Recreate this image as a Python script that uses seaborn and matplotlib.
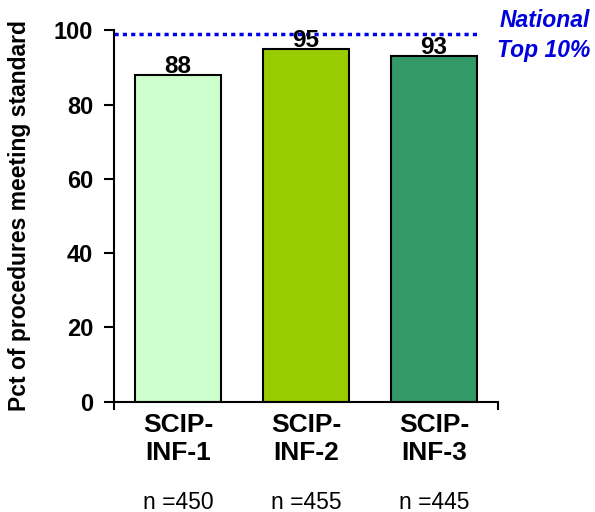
import pandas as pd
import numpy as np
import matplotlib.pyplot as plt
import seaborn as sns

CATEGORIES = ["SCIP-\nINF-1", "SCIP-\nINF-2", "SCIP-\nINF-3"]
VALUES = [88, 95, 93]
N_COUNTS = [450, 455, 445]
BAR_COLORS = ["#CCFFCC", "#99CC00", "#339966"]
NATIONAL_TOP10 = 99

sns.set_theme(style="white")
plt.rcParams['font.family'] = ['Liberation Sans', 'DejaVu Sans']
plt.rcParams['text.color'] = 'black'
plt.rcParams['axes.labelcolor'] = 'black'
plt.rcParams['xtick.color'] = 'black'
plt.rcParams['ytick.color'] = 'black'

df = pd.DataFrame({"Measure": CATEGORIES, "Pct": VALUES})

fig = plt.figure(figsize=(5.95, 5.12), dpi=100)
ax = fig.add_axes([0.1916, 0.2154, 0.6454, 0.7256])

sns.barplot(data=df, x="Measure", y="Pct", hue="Measure", palette=BAR_COLORS,
            order=CATEGORIES, hue_order=CATEGORIES, legend=False,
            width=0.67, edgecolor="black", linewidth=1.5, saturation=1, ax=ax)

for container in ax.containers:
    ax.bar_label(container, fmt="%d", padding=-2, fontsize=17.5, fontweight="bold", color="black")

ax.set_xlim(-0.5, 2.5)
ax.set_ylim(0, 100)
ax.set_yticks([0, 20, 40, 60, 80, 100])
ax.tick_params(axis="y", direction="out", length=7, width=1.5, labelsize=17, pad=8, left=True)
for lbl in ax.get_yticklabels():
    lbl.set_fontweight("bold")

ax.tick_params(axis="x", length=0, labelsize=19, pad=8)
for lbl in ax.get_xticklabels():
    lbl.set_fontweight("bold")
    lbl.set_linespacing(1.2)
ax.set_xticks([-0.5, 2.5], minor=True)
ax.tick_params(axis="x", which="minor", direction="out", length=6, width=1.5, bottom=True)

sns.despine(ax=ax)
for side in ["left", "bottom"]:
    ax.spines[side].set_linewidth(1.5)
    ax.spines[side].set_color("black")

ax.set_xlabel("")
ax.set_ylabel("Pct of procedures meeting standard", fontsize=16.5, fontweight="bold")
ax.yaxis.set_label_coords(-0.215, 0.5)

# national top 10% reference line
ax.axhline(NATIONAL_TOP10, xmin=0, xmax=0.953, color="#0000EE", linestyle=(0, (1.2, 1.2)), linewidth=2.5)
ax.text(1.24, 0.985, "National\nTop 10%", transform=ax.transAxes, ha="right", va="center",
        color="#0000DD", fontsize=16.5, fontweight="bold", fontstyle="italic", linespacing=1.4)

# sample sizes below the categories
for i, n in enumerate(N_COUNTS):
    ax.text(i, -0.27, f"n ={n}", transform=ax.get_xaxis_transform(), ha="center", va="center", fontsize=16.5)

fig.savefig("out.png", dpi=100)
